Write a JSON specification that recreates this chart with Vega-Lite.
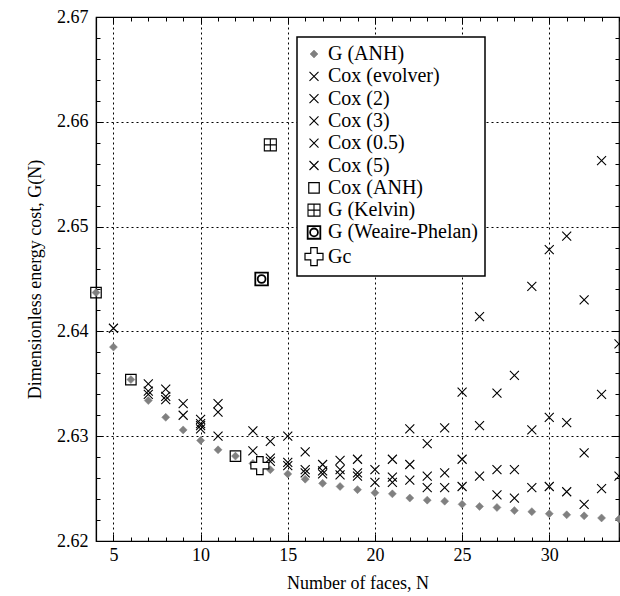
{
  "$schema": "https://vega.github.io/schema/vega-lite/v6.json",
  "width": 523,
  "height": 524,
  "autosize": "none",
  "padding": {"left": 96, "top": 17, "right": 1, "bottom": 55},
  "background": "white",
  "data": {"values": [
    {"N":4,"G":2.6437,"s":"G (ANH)"},{"N":5,"G":2.6385,"s":"G (ANH)"},{"N":6,"G":2.6354,"s":"G (ANH)"},{"N":7,"G":2.6334,"s":"G (ANH)"},{"N":8,"G":2.6318,"s":"G (ANH)"},{"N":9,"G":2.6306,"s":"G (ANH)"},{"N":10,"G":2.6296,"s":"G (ANH)"},{"N":11,"G":2.6287,"s":"G (ANH)"},{"N":12,"G":2.6281,"s":"G (ANH)"},{"N":13,"G":2.6274,"s":"G (ANH)"},{"N":14,"G":2.6268,"s":"G (ANH)"},{"N":15,"G":2.6264,"s":"G (ANH)"},{"N":16,"G":2.6259,"s":"G (ANH)"},{"N":17,"G":2.6255,"s":"G (ANH)"},{"N":18,"G":2.6252,"s":"G (ANH)"},{"N":19,"G":2.6249,"s":"G (ANH)"},{"N":20,"G":2.6246,"s":"G (ANH)"},{"N":21,"G":2.6245,"s":"G (ANH)"},{"N":22,"G":2.6241,"s":"G (ANH)"},{"N":23,"G":2.6239,"s":"G (ANH)"},{"N":24,"G":2.6238,"s":"G (ANH)"},{"N":25,"G":2.6235,"s":"G (ANH)"},{"N":26,"G":2.6233,"s":"G (ANH)"},{"N":27,"G":2.6232,"s":"G (ANH)"},{"N":28,"G":2.6229,"s":"G (ANH)"},{"N":29,"G":2.6228,"s":"G (ANH)"},{"N":30,"G":2.6226,"s":"G (ANH)"},{"N":31,"G":2.6225,"s":"G (ANH)"},{"N":32,"G":2.6224,"s":"G (ANH)"},{"N":33,"G":2.6222,"s":"G (ANH)"},{"N":34,"G":2.6221,"s":"G (ANH)"},
    {"N":5,"G":2.6403,"s":"Cox (5)"},
    {"N":7,"G":2.6340,"s":"Cox (evolver)"},{"N":7,"G":2.6343,"s":"Cox (2)"},{"N":7,"G":2.6350,"s":"Cox (3)"},
    {"N":8,"G":2.6335,"s":"Cox (evolver)"},{"N":8,"G":2.6338,"s":"Cox (2)"},{"N":8,"G":2.6345,"s":"Cox (3)"},
    {"N":9,"G":2.6320,"s":"Cox (evolver)"},{"N":9,"G":2.6331,"s":"Cox (3)"},
    {"N":10,"G":2.6307,"s":"Cox (evolver)"},{"N":10,"G":2.6310,"s":"Cox (2)"},{"N":10,"G":2.6312,"s":"Cox (3)"},{"N":10,"G":2.6316,"s":"Cox (0.5)"},
    {"N":11,"G":2.6300,"s":"Cox (evolver)"},{"N":11,"G":2.6323,"s":"Cox (2)"},{"N":11,"G":2.6331,"s":"Cox (3)"},
    {"N":13,"G":2.6286,"s":"Cox (evolver)"},{"N":13,"G":2.6305,"s":"Cox (3)"},
    {"N":14,"G":2.6276,"s":"Cox (evolver)"},{"N":14,"G":2.6279,"s":"Cox (2)"},{"N":14,"G":2.6295,"s":"Cox (3)"},
    {"N":15,"G":2.6272,"s":"Cox (evolver)"},{"N":15,"G":2.6275,"s":"Cox (2)"},{"N":15,"G":2.6300,"s":"Cox (3)"},
    {"N":16,"G":2.6265,"s":"Cox (evolver)"},{"N":16,"G":2.6268,"s":"Cox (2)"},{"N":16,"G":2.6285,"s":"Cox (3)"},
    {"N":17,"G":2.6264,"s":"Cox (evolver)"},{"N":17,"G":2.6267,"s":"Cox (2)"},{"N":17,"G":2.6273,"s":"Cox (3)"},
    {"N":18,"G":2.6263,"s":"Cox (evolver)"},{"N":18,"G":2.6268,"s":"Cox (2)"},{"N":18,"G":2.6277,"s":"Cox (3)"},
    {"N":19,"G":2.6262,"s":"Cox (evolver)"},{"N":19,"G":2.6265,"s":"Cox (2)"},{"N":19,"G":2.6278,"s":"Cox (3)"},
    {"N":20,"G":2.6256,"s":"Cox (evolver)"},{"N":20,"G":2.6268,"s":"Cox (3)"},
    {"N":21,"G":2.6256,"s":"Cox (evolver)"},{"N":21,"G":2.6261,"s":"Cox (2)"},{"N":21,"G":2.6278,"s":"Cox (3)"},
    {"N":22,"G":2.6258,"s":"Cox (evolver)"},{"N":22,"G":2.6273,"s":"Cox (2)"},{"N":22,"G":2.6307,"s":"Cox (0.5)"},
    {"N":23,"G":2.6251,"s":"Cox (evolver)"},{"N":23,"G":2.6262,"s":"Cox (2)"},{"N":23,"G":2.6293,"s":"Cox (0.5)"},
    {"N":24,"G":2.6251,"s":"Cox (evolver)"},{"N":24,"G":2.6265,"s":"Cox (2)"},{"N":24,"G":2.6308,"s":"Cox (0.5)"},
    {"N":25,"G":2.6252,"s":"Cox (evolver)"},{"N":25,"G":2.6278,"s":"Cox (2)"},{"N":25,"G":2.6342,"s":"Cox (0.5)"},
    {"N":26,"G":2.6262,"s":"Cox (evolver)"},{"N":26,"G":2.6310,"s":"Cox (2)"},{"N":26,"G":2.6414,"s":"Cox (0.5)"},
    {"N":27,"G":2.6244,"s":"Cox (evolver)"},{"N":27,"G":2.6268,"s":"Cox (2)"},{"N":27,"G":2.6341,"s":"Cox (0.5)"},
    {"N":28,"G":2.6241,"s":"Cox (evolver)"},{"N":28,"G":2.6268,"s":"Cox (2)"},{"N":28,"G":2.6358,"s":"Cox (0.5)"},
    {"N":29,"G":2.6251,"s":"Cox (evolver)"},{"N":29,"G":2.6306,"s":"Cox (2)"},{"N":29,"G":2.6443,"s":"Cox (0.5)"},
    {"N":30,"G":2.6252,"s":"Cox (evolver)"},{"N":30,"G":2.6318,"s":"Cox (2)"},{"N":30,"G":2.6478,"s":"Cox (0.5)"},
    {"N":31,"G":2.6247,"s":"Cox (evolver)"},{"N":31,"G":2.6313,"s":"Cox (2)"},{"N":31,"G":2.6491,"s":"Cox (0.5)"},
    {"N":32,"G":2.6235,"s":"Cox (evolver)"},{"N":32,"G":2.6284,"s":"Cox (2)"},{"N":32,"G":2.6430,"s":"Cox (0.5)"},
    {"N":33,"G":2.6250,"s":"Cox (evolver)"},{"N":33,"G":2.6340,"s":"Cox (2)"},{"N":33,"G":2.6563,"s":"Cox (0.5)"},
    {"N":34,"G":2.6262,"s":"Cox (evolver)"},{"N":34,"G":2.6388,"s":"Cox (2)"},
    {"N":4,"G":2.6437,"s":"Cox (ANH)"},{"N":6,"G":2.6354,"s":"Cox (ANH)"},{"N":12,"G":2.6281,"s":"Cox (ANH)"},
    {"N":14,"G":2.6578,"s":"G (Kelvin)"},
    {"N":13.5,"G":2.6450,"s":"G (Weaire-Phelan)"},
    {"N":13.4,"G":2.6272,"s":"Gc"}
  ]},
  "layer": [
    {
      "mark": {"type": "point", "opacity": 1},
      "encoding": {
        "x": {"field": "N", "type": "quantitative",
          "scale": {"domain": [4, 34], "nice": false, "zero": false},
          "axis": {"orient": "bottom", "values": [5,10,15,20,25,30], "format": "d", "grid": true, "tickSize": -7, "labelPadding": 12, "title": "Number of faces, N", "titlePadding": 10}},
        "y": {"field": "G", "type": "quantitative",
          "scale": {"domain": [2.62, 2.67], "nice": false, "zero": false},
          "axis": {"orient": "left", "values": [2.62,2.63,2.64,2.65,2.66,2.67], "format": ".2f", "grid": true, "tickSize": -7, "labelPadding": 15, "title": "Dimensionless energy cost, G(N)", "titlePadding": 12}},
        "shape": {"field": "s", "type": "nominal",
          "scale": {"domain": ["G (ANH)","Cox (evolver)","Cox (2)","Cox (3)","Cox (0.5)","Cox (5)","Cox (ANH)","G (Kelvin)","G (Weaire-Phelan)","Gc"],
            "range": ["diamond","M-1,-1L1,1M-1,1L1,-1","M-1,-1L1,1M-1,1L1,-1","M-1,-1L1,1M-1,1L1,-1","M-1,-1L1,1M-1,1L1,-1","M-1,-1L1,1M-1,1L1,-1","square","M-1,-1H1V1H-1ZM0,-1V1M-1,0H1","M-1,-1H1V1H-1ZM0.62,0A0.62,0.62 0 1,1 -0.62,0A0.62,0.62 0 1,1 0.62,0Z","M-0.36,-1H0.36V-0.36H1V0.36H0.36V1H-0.36V0.36H-1V-0.36H-0.36Z"]},
          "legend": {"title": null}},
        "fill": {"field": "s", "type": "nominal",
          "scale": {"domain": ["G (ANH)","Cox (evolver)","Cox (2)","Cox (3)","Cox (0.5)","Cox (5)","Cox (ANH)","G (Kelvin)","G (Weaire-Phelan)","Gc"],
            "range": ["#808080","transparent","transparent","transparent","transparent","transparent","transparent","transparent","transparent","white"]},
          "legend": {"title": null}},
        "stroke": {"field": "s", "type": "nominal",
          "scale": {"domain": ["G (ANH)","Cox (evolver)","Cox (2)","Cox (3)","Cox (0.5)","Cox (5)","Cox (ANH)","G (Kelvin)","G (Weaire-Phelan)","Gc"],
            "range": ["#808080","#000000","#000000","#000000","#000000","#000000","#000000","#000000","#000000","#000000"]},
          "legend": {"title": null}},
        "size": {"field": "s", "type": "nominal",
          "scale": {"type": "ordinal", "domain": ["G (ANH)","Cox (evolver)","Cox (2)","Cox (3)","Cox (0.5)","Cox (5)","Cox (ANH)","G (Kelvin)","G (Weaire-Phelan)","Gc"],
            "range": [64,81,81,81,81,81,110,144,160,324]},
          "legend": {"title": null}},
        "strokeWidth": {"field": "s", "type": "nominal",
          "scale": {"type": "ordinal", "domain": ["G (ANH)","Cox (evolver)","Cox (2)","Cox (3)","Cox (0.5)","Cox (5)","Cox (ANH)","G (Kelvin)","G (Weaire-Phelan)","Gc"],
            "range": [0.5,1.1,1.1,1.1,1.1,1.1,1.2,1.1,1.8,1.2]},
          "legend": {"title": null}}
      }
    },
    {
      "mark": {"type": "point", "opacity": 0},
      "encoding": {
        "x": {"field": "N", "type": "quantitative", "axis": {"orient": "bottom", "values": [4,5,6,7,8,9,10,11,12,13,14,15,16,17,18,19,20,21,22,23,24,25,26,27,28,29,30,31,32,33,34], "labels": false, "grid": false, "domain": false, "tickSize": -4, "title": null}},
        "y": {"field": "G", "type": "quantitative", "axis": {"orient": "left", "values": [2.62,2.622,2.624,2.626,2.628,2.63,2.632,2.634,2.636,2.638,2.64,2.642,2.644,2.646,2.648,2.65,2.652,2.654,2.656,2.658,2.66,2.662,2.664,2.666,2.668,2.67], "labels": false, "grid": false, "domain": false, "tickSize": -4, "title": null}}
      }
    },
    {
      "mark": {"type": "point", "opacity": 0},
      "encoding": {
        "x": {"field": "N", "type": "quantitative", "axis": {"orient": "top", "values": [5,10,15,20,25,30], "labels": false, "grid": false, "domain": false, "tickSize": -7, "title": null}},
        "y": {"field": "G", "type": "quantitative", "axis": {"orient": "right", "values": [2.62,2.63,2.64,2.65,2.66,2.67], "labels": false, "grid": false, "domain": false, "tickSize": -7, "title": null}}
      }
    },
    {
      "mark": {"type": "point", "opacity": 0},
      "encoding": {
        "x": {"field": "N", "type": "quantitative", "axis": {"orient": "top", "values": [4,5,6,7,8,9,10,11,12,13,14,15,16,17,18,19,20,21,22,23,24,25,26,27,28,29,30,31,32,33,34], "labels": false, "grid": false, "domain": false, "tickSize": -4, "title": null}},
        "y": {"field": "G", "type": "quantitative", "axis": {"orient": "right", "values": [2.62,2.622,2.624,2.626,2.628,2.63,2.632,2.634,2.636,2.638,2.64,2.642,2.644,2.646,2.648,2.65,2.652,2.654,2.656,2.658,2.66,2.662,2.664,2.666,2.668,2.67], "labels": false, "grid": false, "domain": false, "tickSize": -4, "title": null}}
      }
    }
  ],
  "resolve": {"axis": {"x": "independent", "y": "independent"}},
  "config": {
    "font": "Liberation Serif",
    "view": {"stroke": "#000000", "strokeWidth": 1.2},
    "axis": {
      "labelFont": "Liberation Serif", "labelFontSize": 18, "labelColor": "#000000",
      "titleFont": "Liberation Serif", "titleFontSize": 18, "titleFontWeight": "normal", "titleColor": "#000000",
      "domainColor": "#000000", "domainWidth": 1.2, "tickColor": "#000000", "tickWidth": 1,
      "gridColor": "#000000", "gridDash": [2, 3], "gridWidth": 1, "gridOpacity": 1, "labelBound": false, "labelOverlap": false
    },
    "legend": {
      "orient": "none", "legendX": 201, "legendY": 20,
      "fillColor": "white", "strokeColor": "#000000", "strokeWidth": 1.5, "padding": 7,
      "labelFont": "Liberation Serif", "labelFontSize": 20, "labelColor": "#000000",
      "rowPadding": 2.3, "labelOffset": 4, "symbolOffset": 0
    }
  }
}
